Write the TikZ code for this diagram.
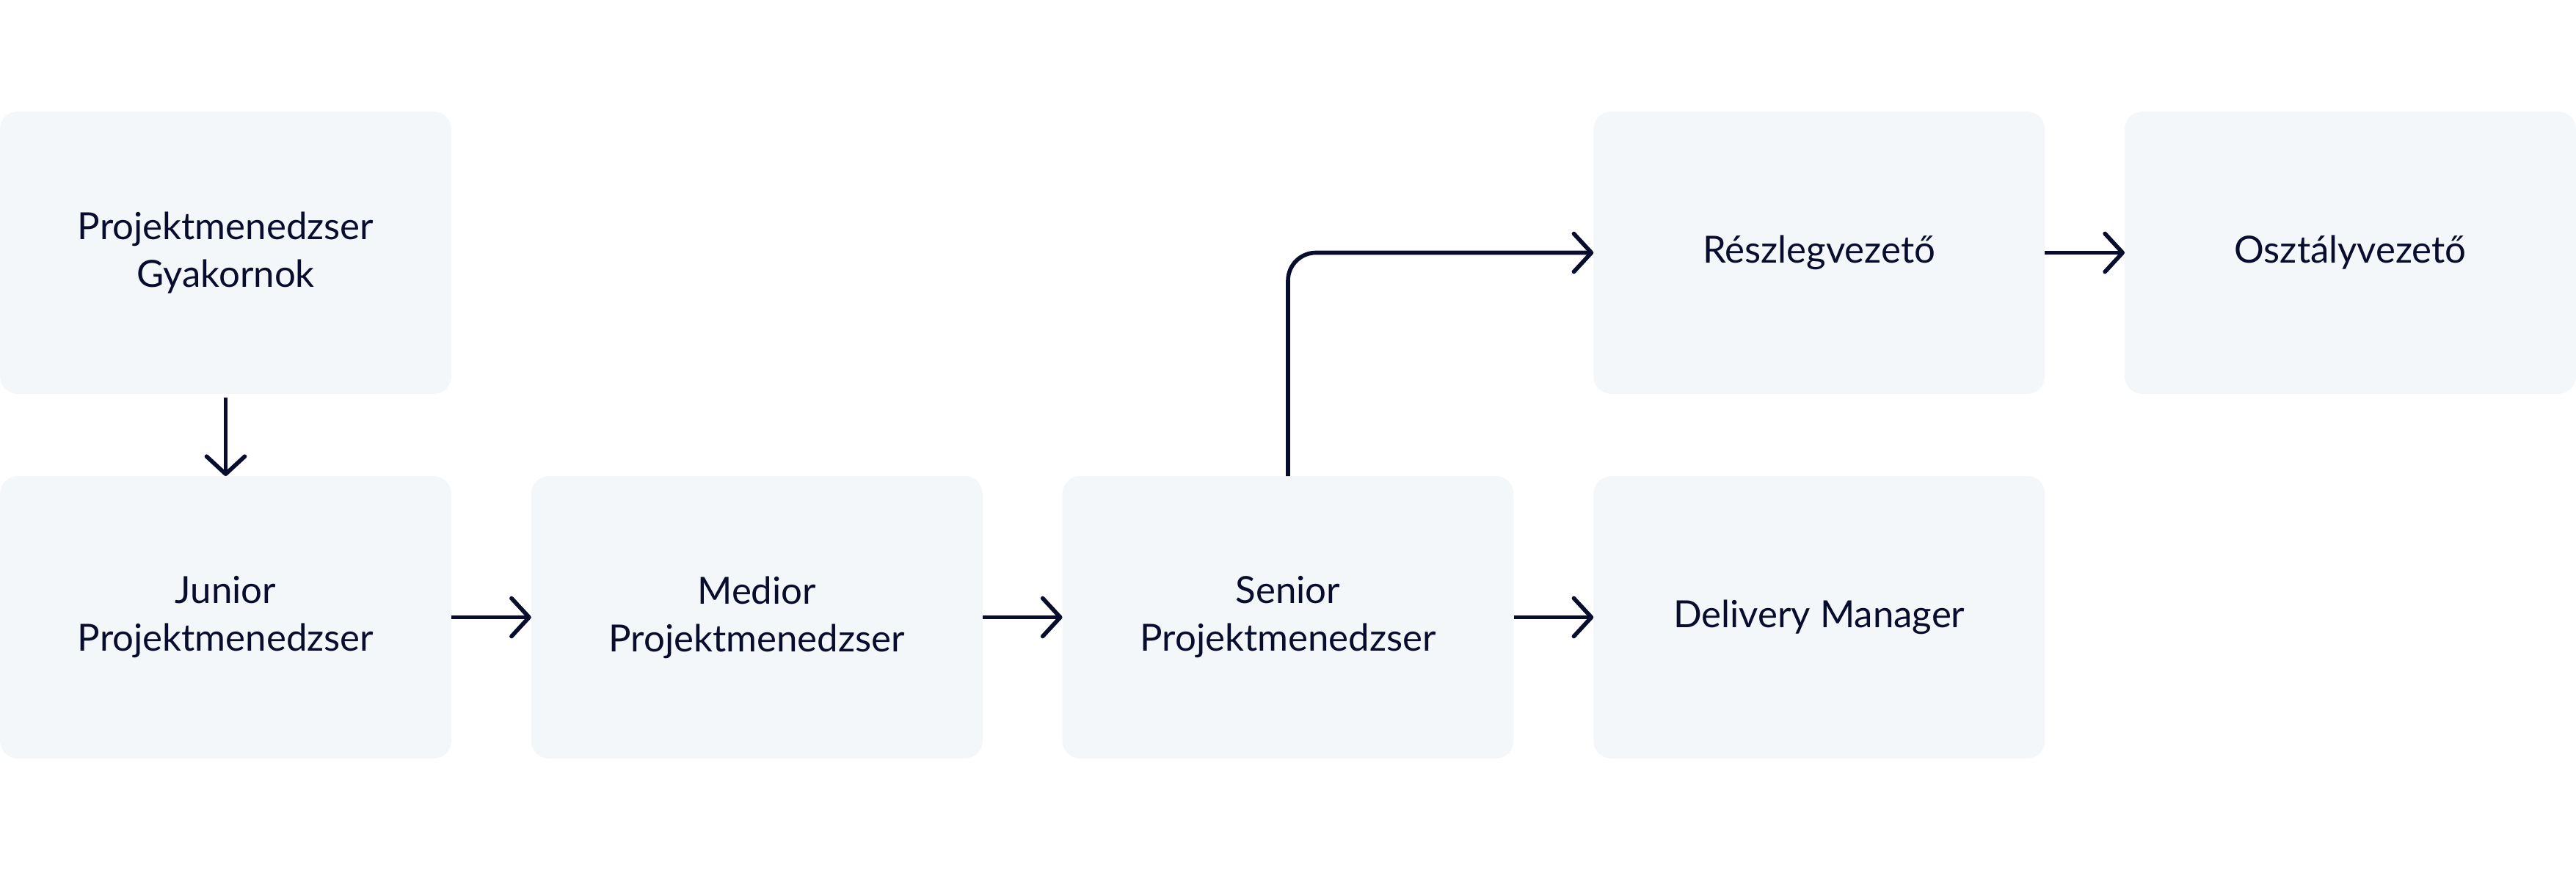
\documentclass[tikz,border=0pt]{standalone}
\usepackage{fontspec}
\setmainfont{Lato}
\usepackage{xcolor}
\usepackage{tikz}
\usetikzlibrary{arrows.meta,positioning}
\definecolor{PMNavy}{HTML}{080D2E}
\definecolor{PMBox}{HTML}{F4F7FA}

\tikzset{
  szint/.style={fill=PMBox, rounded corners=2.4mm, inner sep=0pt, outer sep=0pt,
    minimum width=6.15cm, minimum height=3.85cm, align=center,
    text=PMNavy, font=\fontsize{14.5}{18.5}\selectfont},
  lep/.style={-{Straight Barb[length=2.4mm,width=5.2mm,round]},
    line width=1.6pt, draw=PMNavy}
}

\begin{document}
\begin{tikzpicture}[node distance=1.12cm and 1.0875cm]
\useasboundingbox (0,0) rectangle (35.1,11.85);
\node[szint] (gyak) at (3.075,8.405) {Projektmenedzser\\Gyakornok};
\node[szint, below=of gyak] (jun) {Junior\\Projektmenedzser};
\node[szint, right=of jun] (med) {Medior\\Projektmenedzser};
\node[szint, right=of med] (sen) {Senior\\Projektmenedzser};
\node[szint, right=of sen] (deliv) {Delivery Manager};
\node[szint, above=of deliv] (resz) {Részlegvezető};
\node[szint, right=of resz] (oszt) {Osztályvezető};

\draw[lep] ([yshift=-0.05cm]gyak.south) -- (jun.north);
\draw[lep] (jun) -- (med);
\draw[lep] (med) -- (sen);
\draw[lep] (sen) -- (deliv);
\draw[lep, rounded corners=3.8mm] (sen.north) |- (resz.west);
\draw[lep] (resz) -- (oszt);
\end{tikzpicture}
\end{document}
